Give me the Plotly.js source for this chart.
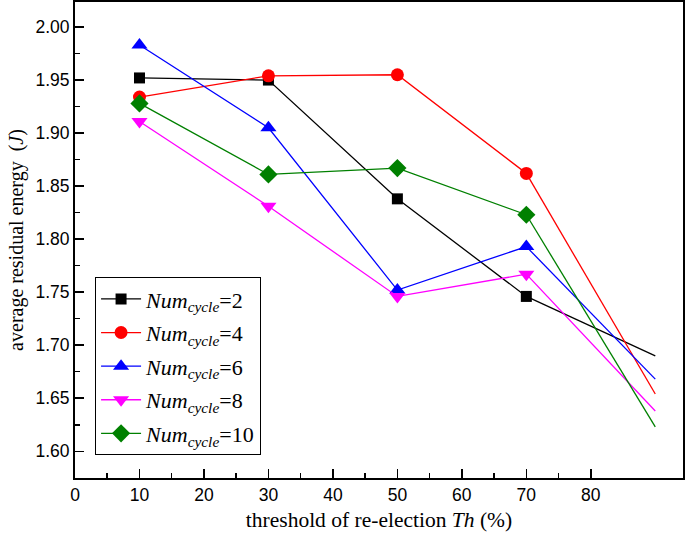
<!DOCTYPE html>
<html>
<head>
<meta charset="utf-8">
<script src="https://cdn.plot.ly/plotly-3.0.1.min.js"></script>
<style>html,body{margin:0;padding:0;background:#fff;}#chart{width:685px;height:537px;}</style>
</head>
<body>
<div id="chart"></div>
<script>
const thresholds = [10, 30, 50, 70, 90];
const cycle2  = [1.952, 1.950, 1.838, 1.746, 1.690];
const cycle4  = [1.934, 1.954, 1.955, 1.862, 1.654];
const cycle6  = [1.983, 1.905, 1.752, 1.793, 1.668];
const cycle8  = [1.911, 1.831, 1.746, 1.767, 1.638];
const cycle10 = [1.928, 1.861, 1.867, 1.823, 1.623];
const seriesNames = ['2', '4', '6', '8', '10'];
const xTickVals = [0, 10, 20, 30, 40, 50, 60, 70, 80];
const yTickVals = [1.60, 1.65, 1.70, 1.75, 1.80, 1.85, 1.90, 1.95, 2.00];

const seriesData = [cycle2, cycle4, cycle6, cycle8, cycle10];
const styles = [
  {color: '#000000', symbol: 'square', size: 11},
  {color: '#ff0000', symbol: 'circle', size: 13},
  {color: '#0000ff', symbol: 'triangle-up', size: 14},
  {color: '#ff00ff', symbol: 'triangle-down', size: 14},
  {color: '#008000', symbol: 'diamond', size: 14}
];

const traces = [];
seriesData.forEach((ys, i) => {
  const s = styles[i];
  traces.push({
    x: thresholds.slice(3), y: ys.slice(3), mode: 'lines', type: 'scatter',
    line: {color: s.color, width: 1.3}, showlegend: false, hoverinfo: 'skip',
    legendgroup: 'g' + i
  });
});
seriesData.forEach((ys, i) => {
  const s = styles[i];
  traces.push({
    x: thresholds.slice(0, 4), y: ys.slice(0, 4), mode: 'lines+markers', type: 'scatter',
    name: '<i>Num</i><sub><i>cycle</i></sub>=' + seriesNames[i],
    line: {color: s.color, width: 1.3},
    marker: {color: s.color, symbol: s.symbol, size: s.size},
    legendgroup: 'g' + i
  });
});

const layout = {
  width: 685, height: 537,
  margin: {l: 75, r: 2, t: 2, b: 59},
  paper_bgcolor: '#fff', plot_bgcolor: '#fff',
  showlegend: true,
  legend: {
    x: 0.033, y: 0.422, xanchor: 'left', yanchor: 'top',
    bordercolor: '#000', borderwidth: 1, bgcolor: '#fff',
    font: {family: 'Liberation Serif, Times New Roman, serif', size: 22, color: '#000'},
    traceorder: 'grouped', tracegroupgap: 2, itemwidth: 40
  },
  xaxis: {
    range: [0, 94.3], tickmode: 'array', tickvals: xTickVals,
    ticks: 'inside', ticklen: 9, tickwidth: 1.5, tickcolor: '#000',
    minor: {tickmode: 'array', tickvals: [5, 15, 25, 35, 45, 55, 65, 75], ticks: 'inside', ticklen: 5, tickwidth: 1.5, tickcolor: '#000'},
    showline: true, linecolor: '#000', linewidth: 2, mirror: true,
    showgrid: false, zeroline: false,
    tickfont: {family: 'Liberation Sans, Arial, sans-serif', size: 17.5, color: '#000'},
    title: {text: 'threshold of re-election <i>Th</i> (%)', standoff: 8,
      font: {family: 'Liberation Serif, Times New Roman, serif', size: 21.5, color: '#000'}}
  },
  yaxis: {
    range: [1.5748, 2.0236], tickmode: 'array', tickvals: yTickVals,
    tickformat: '.2f',
    ticks: 'inside', ticklen: 9, tickwidth: 1.5, tickcolor: '#000',
    minor: {tickmode: 'linear', tick0: 1.575, dtick: 0.05, ticks: 'inside', ticklen: 5, tickwidth: 1.5, tickcolor: '#000'},
    showline: true, linecolor: '#000', linewidth: 2, mirror: true,
    showgrid: false, zeroline: false,
    tickfont: {family: 'Liberation Sans, Arial, sans-serif', size: 17.5, color: '#000'},
    title: {text: 'average residual energy  (<i>J</i>)', standoff: 6,
      font: {family: 'Liberation Serif, Times New Roman, serif', size: 20, color: '#000'}}
  }
};

Plotly.newPlot('chart', traces, layout, {displayModeBar: false, staticPlot: true});
</script>
</body>
</html>
